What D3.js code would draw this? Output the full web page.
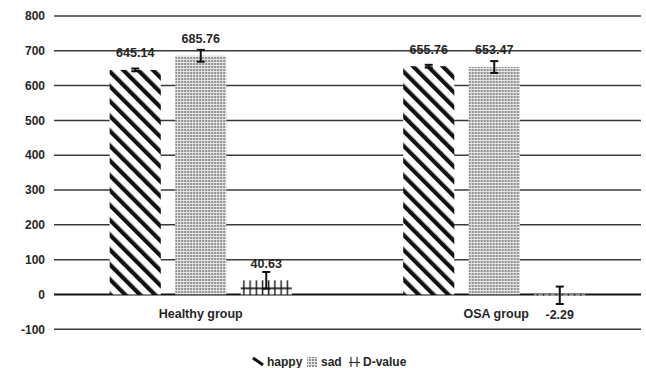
<!DOCTYPE html>
<html>
<head>
<meta charset="utf-8">
<script src="https://cdn.jsdelivr.net/npm/d3@7"></script>
<style>
  body { margin: 0; background: #fff; }
  text { font-family: "Liberation Sans", Arial, sans-serif; font-weight: bold; fill: #262626; }
</style>
</head>
<body>
<div id="chart"></div>
<script>
// data
const groups = ["Healthy group", "OSA group"];
const series = ["happy", "sad", "D-value"];
const happy = [645.14, 655.76];
const sad = [685.76, 653.47];
const dvalue = [40.63, -2.29];
const happyErr = [4, 4];
const sadErr = [17, 17];
const dvalueErr = [24, 25];
const yTicks = [-100, 0, 100, 200, 300, 400, 500, 600, 700, 800];

const values = { "happy": happy, "sad": sad, "D-value": dvalue };
const errors = { "happy": happyErr, "sad": sadErr, "D-value": dvalueErr };

const width = 646, height = 368;
const plotLeft = 54, plotRight = 641, plotTop = 16, plotBottom = 329.3;

const svg = d3.select("#chart").append("svg")
    .attr("width", width)
    .attr("height", height);

// fill patterns
const defs = svg.append("defs");

const diag = defs.append("pattern")
    .attr("id", "p-happy")
    .attr("patternUnits", "userSpaceOnUse")
    .attr("width", 10.5).attr("height", 10.5)
    .attr("patternTransform", "rotate(-45)");
diag.append("rect").attr("width", 10.5).attr("height", 10.5).attr("fill", "#fff");
diag.append("rect").attr("x", 0).attr("width", 4.2).attr("height", 10.5).attr("fill", "#111");

const dots = defs.append("pattern")
    .attr("id", "p-sad")
    .attr("patternUnits", "userSpaceOnUse")
    .attr("width", 3).attr("height", 3);
dots.append("rect").attr("width", 3).attr("height", 3).attr("fill", "#e6e6e6");
dots.append("rect").attr("width", 2).attr("height", 2).attr("fill", "#8f8f8f");

const y = d3.scaleLinear().domain([-100, 800]).range([plotBottom, plotTop]);

const cross = defs.append("pattern")
    .attr("id", "p-dvalue")
    .attr("patternUnits", "userSpaceOnUse")
    .attr("x", 0).attr("y", y(0))
    .attr("width", 6.2).attr("height", 14);
cross.append("rect").attr("width", 6.2).attr("height", 14).attr("fill", "#fff");
cross.append("rect").attr("x", 2.5).attr("y", 0).attr("width", 1.4).attr("height", 14).attr("fill", "#111");
cross.append("rect").attr("x", 0).attr("y", 7).attr("width", 6.2).attr("height", 1.6).attr("fill", "#111");

const fills = { "happy": "url(#p-happy)", "sad": "url(#p-sad)", "D-value": "url(#p-dvalue)" };

const x0 = d3.scaleBand().domain(groups).range([plotLeft, plotRight]);
const x1 = d3.scaleBand().domain(series).range([0, x0.bandwidth()])
    .paddingInner(0.22).paddingOuter(0.85);

// grid lines
svg.append("g")
    .selectAll("line")
    .data(yTicks)
    .join("line")
    .attr("x1", plotLeft).attr("x2", plotRight)
    .attr("y1", d => y(d)).attr("y2", d => y(d))
    .attr("stroke", d => d === 0 ? "#111" : "#3a3a3a")
    .attr("stroke-width", d => d === 0 ? 2 : 1.5);

// y axis labels
svg.append("g")
    .selectAll("text")
    .data(yTicks)
    .join("text")
    .attr("x", 45)
    .attr("y", d => y(d))
    .attr("dy", "0.35em")
    .attr("text-anchor", "end")
    .attr("font-size", 12)
    .text(d => d);

const rows = [];
groups.forEach((g, i) => {
    series.forEach(s => rows.push({ group: g, key: s, value: values[s][i], err: errors[s][i] }));
});

const bars = svg.append("g")
    .selectAll("g")
    .data(rows)
    .join("g")
    .attr("transform", d => `translate(${x0(d.group) + x1(d.key)},0)`);

bars.append("rect")
    .attr("y", d => y(Math.max(0, d.value)))
    .attr("width", x1.bandwidth())
    .attr("height", d => Math.abs(y(d.value) - y(0)))
    .attr("fill", d => fills[d.key]);

// error bars
const bw = x1.bandwidth();
bars.append("line")
    .attr("x1", bw / 2).attr("x2", bw / 2)
    .attr("y1", d => y(d.value + d.err))
    .attr("y2", d => y(d.value - d.err))
    .attr("stroke", "#111").attr("stroke-width", 2);
bars.selectAll(".cap")
    .data(d => [d.value + d.err, d.value - d.err])
    .join("line")
    .attr("class", "cap")
    .attr("x1", bw / 2 - 4).attr("x2", bw / 2 + 4)
    .attr("y1", d => y(d)).attr("y2", d => y(d))
    .attr("stroke", "#111").attr("stroke-width", 2);

// data labels
bars.append("text")
    .attr("x", bw / 2)
    .attr("y", d => d.value >= 0 ? y(d.value) - 17 : y(d.value) + 19)
    .attr("dy", "0.35em")
    .attr("text-anchor", "middle")
    .attr("font-size", 12.5)
    .text(d => d.value.toFixed(2));

// category labels
svg.append("g")
    .selectAll("text")
    .data(groups)
    .join("text")
    .attr("x", d => x0(d) + x0.bandwidth() / 2 + (d === "OSA group" ? 2 : 0))
    .attr("y", 313.5)
    .attr("dy", "0.35em")
    .attr("text-anchor", "middle")
    .attr("font-size", 12.5)
    .text(d => d);

// legend
const legend = svg.append("g").attr("transform", "translate(0,362)");
legend.append("line")
    .attr("x1", 253).attr("y1", -4).attr("x2", 263).attr("y2", 3)
    .attr("stroke", "#111").attr("stroke-width", 3);
legend.append("text").attr("x", 267).attr("dy", "0.35em").attr("font-size", 12).text("happy");
legend.append("rect")
    .attr("x", 307).attr("y", -5).attr("width", 10).attr("height", 10)
    .attr("fill", "url(#p-sad)");
legend.append("text").attr("x", 321).attr("dy", "0.35em").attr("font-size", 12).text("sad");
legend.append("g")
    .attr("stroke", "#333").attr("stroke-width", 1.2)
    .call(g => {
        g.append("line").attr("x1", 351).attr("x2", 351).attr("y1", -5).attr("y2", 5);
        g.append("line").attr("x1", 357).attr("x2", 357).attr("y1", -5).attr("y2", 5);
        g.append("line").attr("x1", 349).attr("x2", 360).attr("y1", 0.5).attr("y2", 0.5);
    });
legend.append("text").attr("x", 363).attr("dy", "0.35em").attr("font-size", 12).text("D-value");
</script>
</body>
</html>
